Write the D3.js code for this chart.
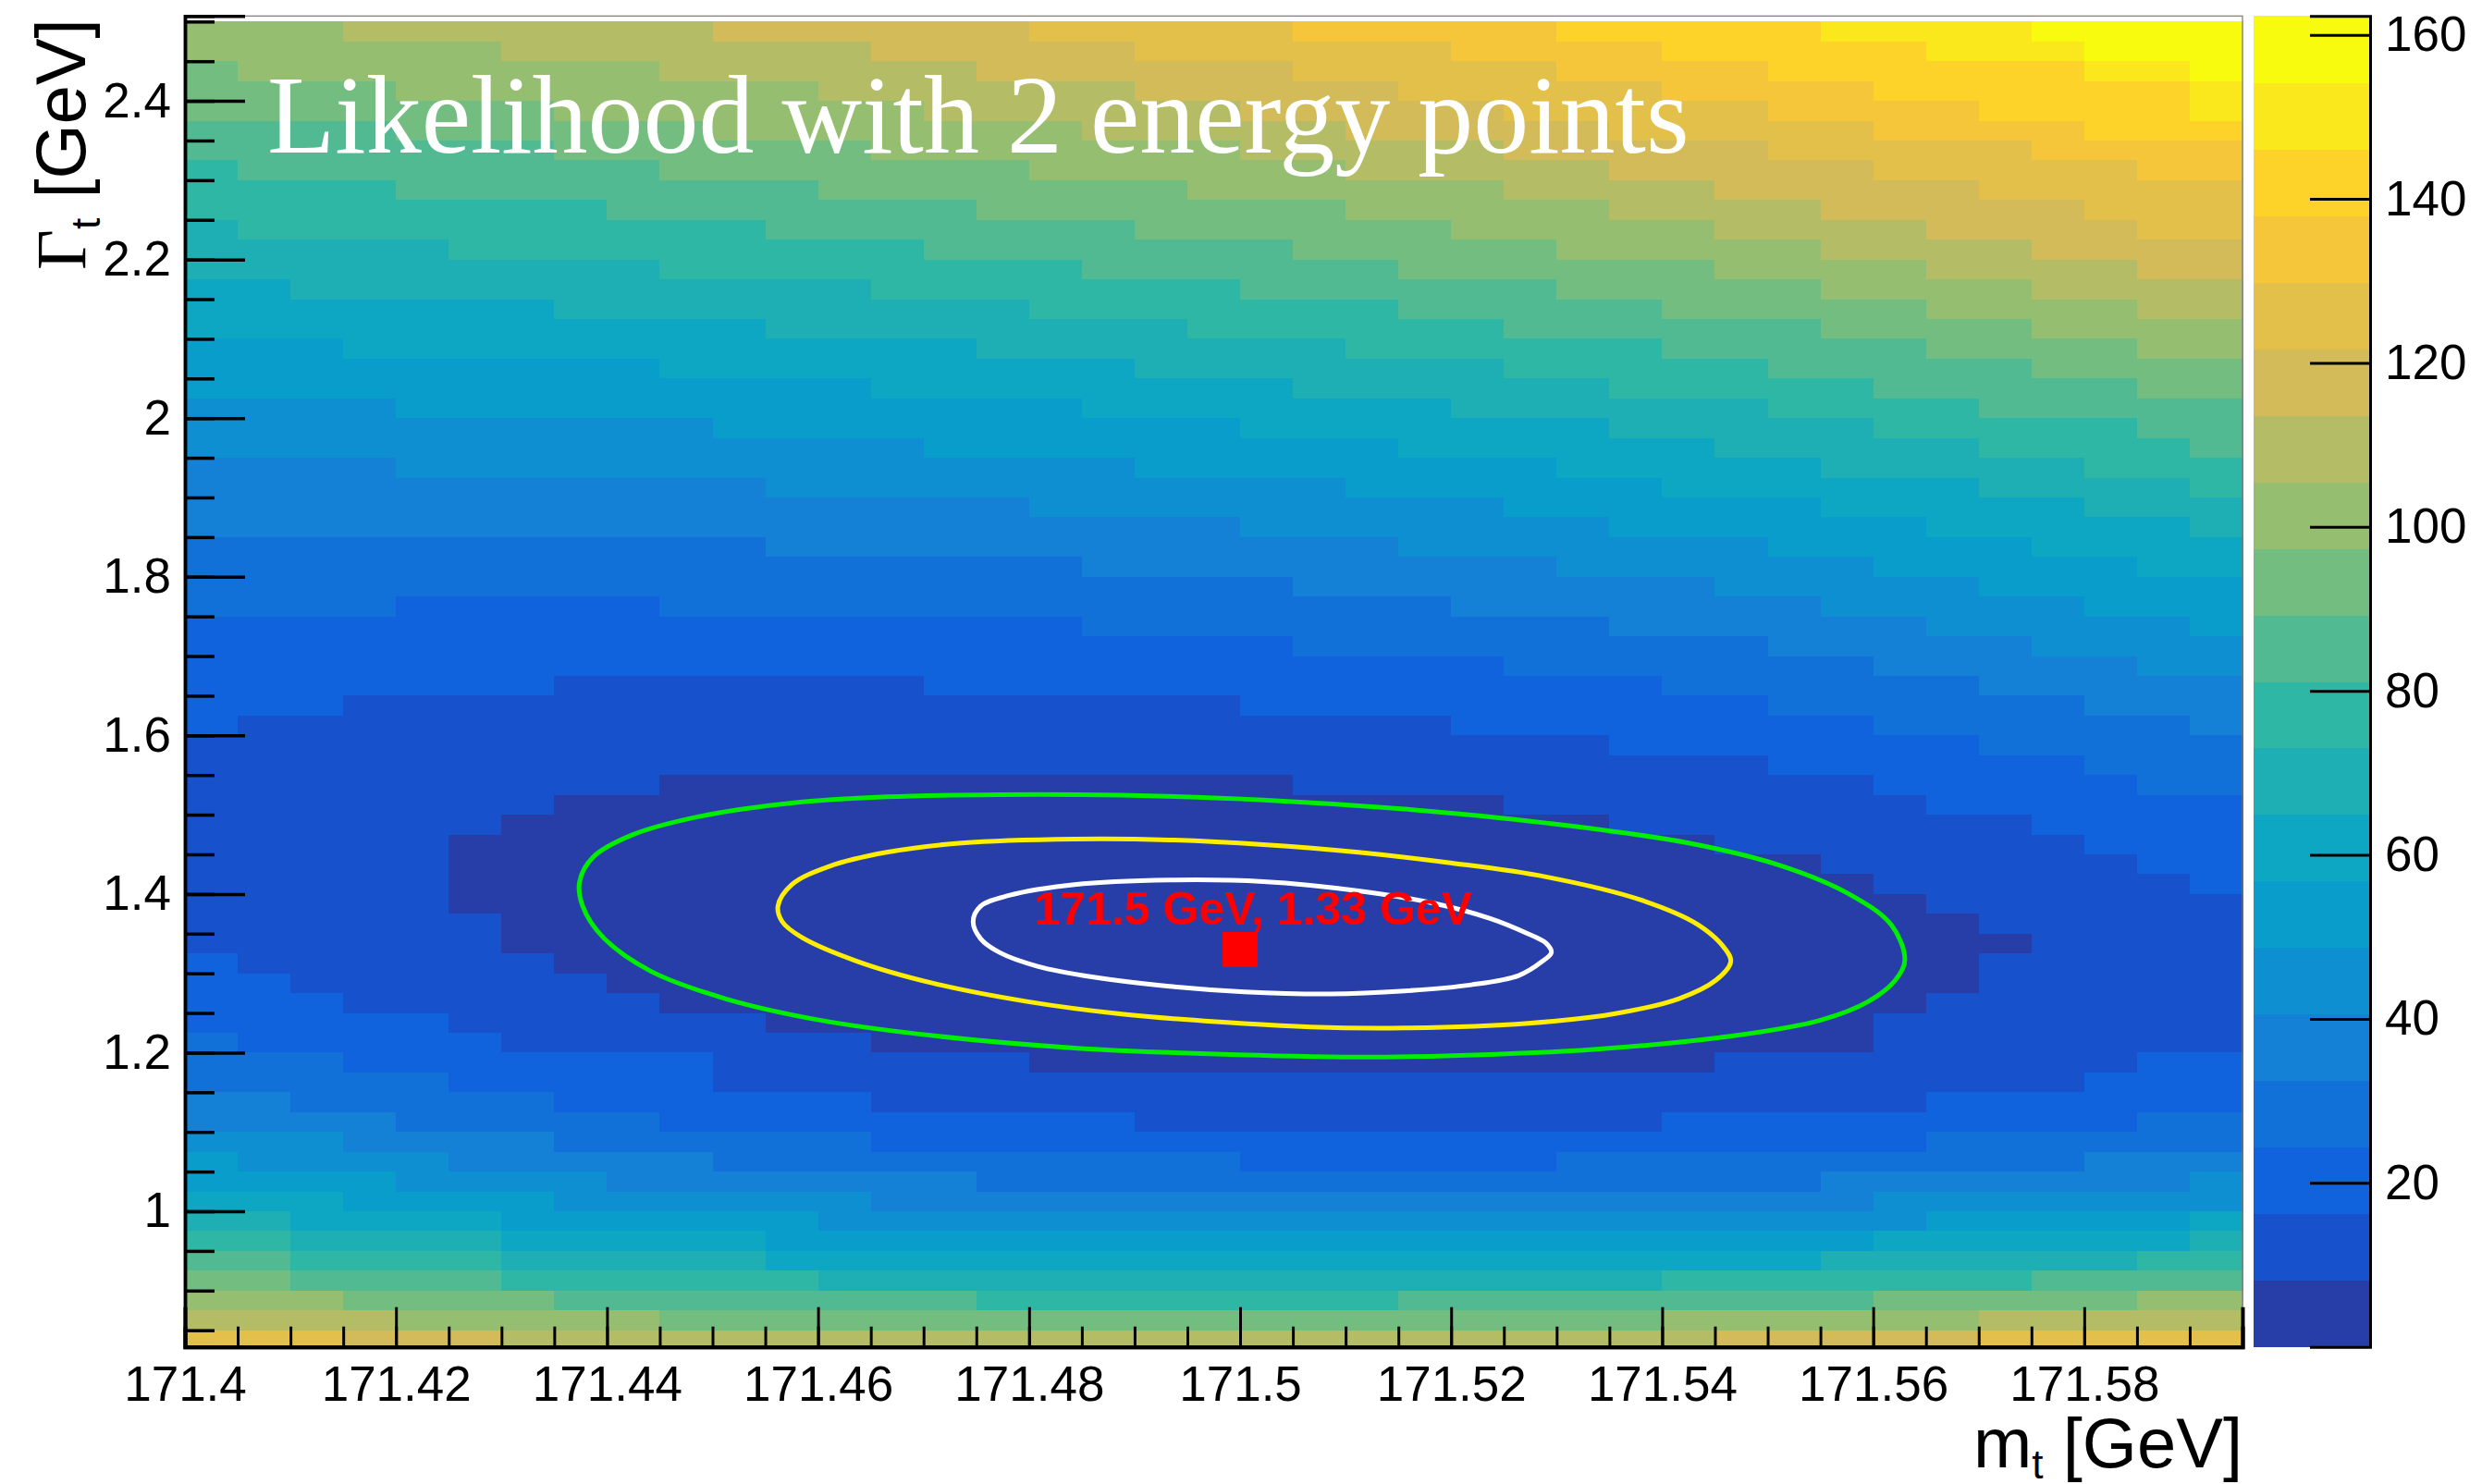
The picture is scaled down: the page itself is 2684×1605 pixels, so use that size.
<!DOCTYPE html>
<html><head><meta charset="utf-8">
<script src="https://cdn.jsdelivr.net/npm/d3@7"></script>
<style>html,body{margin:0;padding:0;background:#fff;} svg{display:block;}</style>
</head><body><svg id="c" width="2684" height="1605"></svg>
<script>
// ---------------- data ----------------
const title = "Likelihood with 2 energy points";
const xTitle = ["m", "t", " [GeV]"];
const yTitle = ["\u0393", "t", " [GeV]"];
const xMajorTicks = [171.40,171.42,171.44,171.46,171.48,171.50,171.52,171.54,171.56,171.58];
const yMajorTicks = [1.0,1.2,1.4,1.6,1.8,2.0,2.2,2.4];
const zTicks = [20,40,60,80,100,120,140,160];
const mRange = [171.4, 171.595];
const gammaRange = [0.829, 2.507];
const zRange = [0, 162.3];
const nBands = 20;
const mBinWidth = 0.005;
const gammaBinWidth = 0.025;
const bestFit = [171.5, 1.33];
const bestFitLabel = "171.5 GeV, 1.33 GeV";
const bestFitLabelPos = [171.4805, 1.3613];

// colour band index per cell, as runs [startColumn, band] ; rows from top (Γ=2.507) to bottom (Γ=0.829)
const bandRuns = [
 [[0,12],[3,13],[10,14],[16,15],[21,16],[26,17],[31,18],[35,19]],
 [[0,12],[6,13],[13,14],[18,15],[24,16],[28,17],[33,18],[36,19]],
 [[0,11],[1,12],[9,13],[15,14],[21,15],[26,16],[30,17],[36,18],[38,19]],
 [[0,11],[4,12],[12,13],[18,14],[23,15],[28,16],[32,17],[38,18]],
 [[0,11],[7,12],[14,13],[20,14],[25,15],[30,16],[34,17],[38,18]],
 [[0,10],[4,11],[10,12],[17,13],[22,14],[27,15],[32,16],[36,17]],
 [[0,10],[7,11],[13,12],[20,13],[25,14],[30,15],[35,16]],
 [[0,9],[1,10],[9,11],[16,12],[22,13],[27,14],[32,15],[37,16]],
 [[0,9],[4,10],[12,11],[19,12],[25,13],[29,14],[34,15]],
 [[0,9],[8,10],[15,11],[22,12],[27,13],[31,14],[36,15]],
 [[0,8],[1,9],[11,10],[18,11],[24,12],[29,13],[33,14],[37,15]],
 [[0,8],[5,9],[14,10],[21,11],[26,12],[31,13],[35,14]],
 [[0,8],[9,9],[17,10],[23,11],[29,12],[33,13],[37,14]],
 [[0,7],[2,8],[13,9],[20,10],[26,11],[31,12],[35,13]],
 [[0,7],[7,8],[16,9],[23,10],[28,11],[33,12],[37,13]],
 [[0,7],[11,8],[19,9],[25,10],[31,11],[35,12]],
 [[0,6],[3,7],[15,8],[22,9],[28,10],[33,11],[37,12]],
 [[0,6],[9,7],[18,8],[25,9],[30,10],[35,11]],
 [[0,6],[13,7],[21,8],[27,9],[32,10],[37,11]],
 [[0,5],[4,6],[17,7],[24,8],[30,9],[34,10]],
 [[0,5],[10,6],[20,7],[27,8],[32,9],[37,10]],
 [[0,5],[14,6],[23,7],[29,8],[34,9],[38,10]],
 [[0,4],[4,5],[18,6],[26,7],[31,8],[36,9]],
 [[0,4],[11,5],[22,6],[28,7],[34,8],[38,9]],
 [[0,4],[16,5],[25,6],[31,7],[36,8]],
 [[0,4],[20,5],[27,6],[33,7],[38,8]],
 [[0,3],[11,4],[23,5],[30,6],[35,7]],
 [[0,3],[17,4],[26,5],[32,6],[37,7]],
 [[0,3],[21,4],[29,5],[34,6]],
 [[0,3],[4,2],[9,3],[24,4],[31,5],[36,6]],
 [[0,2],[17,3],[27,4],[33,5],[38,6]],
 [[0,2],[21,3],[30,4],[35,5]],
 [[0,2],[25,3],[32,4],[37,5]],
 [[0,2],[7,1],[14,2],[28,3],[34,4]],
 [[0,2],[3,1],[20,2],[30,3],[36,4]],
 [[0,2],[1,1],[24,2],[32,3],[38,4]],
 [[0,1],[27,2],[34,3]],
 [[0,1],[30,2],[36,3]],
 [[0,1],[9,0],[21,1],[32,2],[37,3]],
 [[0,1],[7,0],[25,1],[33,2]],
 [[0,1],[6,0],[27,1],[35,2]],
 [[0,1],[5,0],[29,1],[36,2]],
 [[0,1],[5,0],[31,1],[37,2]],
 [[0,1],[5,0],[32,1],[38,2]],
 [[0,1],[5,0],[33,1]],
 [[0,1],[6,0],[34,1]],
 [[0,1],[6,0],[35,1]],
 [[0,2],[1,1],[7,0],[34,1]],
 [[0,2],[2,1],[8,0],[34,1]],
 [[0,2],[3,1],[9,0],[33,1]],
 [[0,2],[5,1],[11,0],[32,1]],
 [[0,3],[1,2],[6,1],[13,0],[32,1]],
 [[0,3],[3,2],[10,1],[16,0],[29,1],[37,2]],
 [[0,3],[5,2],[10,1],[36,2]],
 [[0,4],[2,3],[7,2],[13,1],[33,2]],
 [[0,4],[4,3],[9,2],[18,1],[28,2],[37,3]],
 [[0,5],[3,4],[7,3],[13,2],[33,3]],
 [[0,6],[1,5],[5,4],[10,3],[20,2],[26,3],[36,4]],
 [[0,6],[4,5],[8,4],[15,3],[31,4],[38,5]],
 [[0,7],[3,6],[7,5],[13,4],[32,5]],
 [[0,8],[2,7],[6,6],[12,5],[33,6],[38,7]],
 [[0,9],[2,8],[6,7],[11,6],[32,7],[38,8]],
 [[0,10],[2,9],[6,8],[11,7],[31,8],[37,9]],
 [[0,11],[2,10],[6,9],[12,8],[28,9],[35,10]],
 [[0,12],[3,11],[7,10],[15,9],[23,10],[32,11],[37,12]],
 [[0,13],[4,12],[9,11],[28,12],[34,13]],
 [[0,15],[3,14],[6,13],[29,14],[34,15]]
];

// contour lines [m, Γ]
const contour1sigma = [[171.4747,1.3652],[171.4754,1.3846],[171.4781,1.3982],[171.4843,1.4118],[171.4933,1.4176],[171.5022,1.4157],[171.5112,1.4040],[171.5183,1.3885],[171.5237,1.3691],[171.5273,1.3497],[171.5290,1.3380],[171.5295,1.3263],[171.5286,1.3147],[171.5264,1.2972],[171.5219,1.2855],[171.5156,1.2778],[171.5085,1.2739],[171.5004,1.2766],[171.4933,1.2836],[171.4861,1.2952],[171.4808,1.3089],[171.4772,1.3263],[171.4754,1.3438]];
const contour2sigma = [[171.4562,1.3846],[171.4575,1.4118],[171.4611,1.4351],[171.4665,1.4526],[171.4736,1.4643],[171.4843,1.4693],[171.4933,1.4682],[171.5022,1.4623],[171.5112,1.4526],[171.5201,1.4390],[171.5290,1.4216],[171.5380,1.3924],[171.5434,1.3613],[171.5460,1.3302],[171.5465,1.3147],[171.5451,1.2914],[171.5416,1.2681],[171.5353,1.2486],[171.5273,1.2370],[171.5156,1.2311],[171.5067,1.2323],[171.4977,1.2389],[171.4888,1.2486],[171.4799,1.2642],[171.4709,1.2875],[171.4638,1.3147],[171.4584,1.3458],[171.4566,1.3652]];
const contour3sigma = [[171.4374,1.4157],[171.4387,1.4467],[171.4423,1.4740],[171.4486,1.4973],[171.4575,1.5148],[171.4665,1.5225],[171.4772,1.5253],[171.4888,1.5245],[171.5022,1.5186],[171.5156,1.5070],[171.5290,1.4895],[171.5425,1.4643],[171.5514,1.4351],[171.5577,1.4001],[171.5617,1.3613],[171.5630,1.3167],[171.5621,1.2914],[171.5595,1.2642],[171.5550,1.2409],[171.5469,1.2214],[171.5335,1.2040],[171.5201,1.1962],[171.5112,1.1943],[171.4977,1.1981],[171.4843,1.2059],[171.4709,1.2214],[171.4602,1.2409],[171.4512,1.2681],[171.4441,1.3030],[171.4396,1.3458],[171.4377,1.3846]];

// ---------------- palette (ROOT kBird) ----------------
const birdStops = [0,0.125,0.25,0.375,0.5,0.625,0.75,0.875,1];
const birdR = [0.2082,0.0592,0.0780,0.0232,0.1802,0.5301,0.8186,0.9956,0.9764];
const birdG = [0.1664,0.3599,0.5041,0.6419,0.7178,0.7492,0.7328,0.7862,0.9832];
const birdB = [0.5293,0.8684,0.8385,0.7914,0.6425,0.4662,0.3499,0.1968,0.0539];
const bird = d3.scaleLinear().domain(birdStops)
  .range(birdStops.map((s,i)=>d3.rgb(birdR[i]*255,birdG[i]*255,birdB[i]*255).toString()))
  .interpolate(d3.interpolateRgb);
const bandColors = d3.range(nBands).map(i => bird(Math.floor((i+0.99)*255/nBands)/254));

// ---------------- layout ----------------
const F = {x0:200, x1:2425, y0:17.3, y1:1456.7};
const CB = {x0:2437, x1:2564};
const sans = "'Liberation Sans', Arial, Helvetica, sans-serif";
const serif = "'Liberation Serif', 'Times New Roman', serif";
const svg = d3.select("#c");

const x = d3.scaleLinear().domain(mRange).range([F.x0, F.x1]);
const y = d3.scaleLinear().domain(gammaRange).range([F.y1, F.y0]);
const zScale = d3.scaleLinear().domain(zRange).range([F.y1, F.y0]);
const color = d3.scaleQuantize().domain(zRange).range(bandColors);
const zStep = (zRange[1]-zRange[0])/nBands;

// build cells
const nCols = Math.round((mRange[1]-mRange[0])/mBinWidth);
const cells = [];
bandRuns.forEach((runs, r) => {
  const hi = Math.min(gammaRange[1], 2.5 - gammaBinWidth*r);
  const lo = Math.max(gammaRange[0], 2.475 - gammaBinWidth*r);
  for (let c = 0; c < nCols; c++) {
    let band = runs[0][1];
    for (const [s,b] of runs) if (c >= s) band = b;
    cells.push({m0: mRange[0]+c*mBinWidth, m1: mRange[0]+(c+1)*mBinWidth, g0: lo, g1: hi, z: (band+0.5)*zStep});
  }
});

svg.append("g").attr("shape-rendering","crispEdges")
  .selectAll("rect").data(cells).join("rect")
  .attr("x", d => x(d.m0)).attr("width", d => x(d.m1)-x(d.m0)+0.6)
  .attr("y", d => y(d.g1)).attr("height", d => y(d.g0)-y(d.g1)+0.6)
  .attr("fill", d => color(d.z));

// contours
const line = d3.line().x(d=>x(d[0])).y(d=>y(d[1])).curve(d3.curveCatmullRomClosed.alpha(0.5));
[[contour3sigma,"#00ee00"],[contour2sigma,"#ffee00"],[contour1sigma,"#ffffff"]].forEach(([pts,col])=>{
  svg.append("path").attr("d", line(pts)).attr("fill","none").attr("stroke",col).attr("stroke-width",5);
});

// best fit marker + label
svg.append("rect").attr("x", x(bestFit[0])-19).attr("y", y(bestFit[1])-19)
  .attr("width",38).attr("height",38).attr("fill","#ff0000");
svg.append("text").attr("x", x(bestFitLabelPos[0])).attr("y", y(bestFitLabelPos[1]))
  .attr("font-family", sans).attr("font-weight","bold").attr("font-size",50).attr("fill","#ff0000")
  .text(bestFitLabel);

// title
svg.append("text").attr("x", 289).attr("y", 165).attr("font-family", serif)
  .attr("font-size", 120).attr("fill","#ffffff").text(title);

// frame
svg.append("rect").attr("x",F.x0).attr("y",F.y0).attr("width",F.x1-F.x0).attr("height",F.y1-F.y0)
  .attr("fill","none").attr("stroke","#777").attr("stroke-width",1.2);

// x axis
const xMinor = d3.range(0, nCols+1).map(k => mRange[0] + k*mBinWidth);
const gx = svg.append("g").attr("transform",`translate(0,${F.y1})`);
gx.call(d3.axisBottom(x).tickValues(xMinor).tickSize(-22).tickFormat(""));
gx.call(g=>g.append("g").call(d3.axisBottom(x).tickValues(xMajorTicks).tickSize(-43).tickPadding(21)
   .tickFormat(d => String(+d.toFixed(3)))));
gx.selectAll("path.domain").attr("stroke","#000").attr("stroke-width",4);
gx.selectAll(".tick line").attr("stroke","#000").attr("stroke-width",3);
gx.selectAll("text").attr("font-family",sans).attr("font-size",53).attr("fill","#000");

// y axis
const yMinor = d3.range(0, 34).map(k => 0.85 + k*0.05);
const gy = svg.append("g").attr("transform",`translate(${F.x0},0)`);
gy.call(d3.axisLeft(y).tickValues(yMinor).tickSize(-32).tickFormat(""));
gy.call(g=>g.append("g").call(d3.axisLeft(y).tickValues(yMajorTicks).tickSize(-65).tickPadding(15)
   .tickFormat(d => String(+d.toFixed(2)))));
gy.selectAll("path.domain").attr("stroke","#000").attr("stroke-width",3.5);
gy.selectAll(".tick line").attr("stroke","#000").attr("stroke-width",3.5);
gy.selectAll("text").attr("font-family",sans).attr("font-size",53).attr("fill","#000");

// colour bar
const cbBands = d3.range(nBands).map(i => ({z0: zRange[0]+i*zStep, z1: zRange[0]+(i+1)*zStep}));
svg.append("g").attr("shape-rendering","crispEdges").selectAll("rect").data(cbBands).join("rect")
  .attr("x", CB.x0).attr("width", CB.x1-CB.x0)
  .attr("y", d => zScale(d.z1)).attr("height", d => zScale(d.z0)-zScale(d.z1)+0.5)
  .attr("fill", d => color((d.z0+d.z1)/2));
const gz = svg.append("g").attr("transform",`translate(${CB.x1-1},0)`);
gz.call(d3.axisRight(zScale).tickValues(zTicks).tickSize(-65).tickPadding(16).tickFormat(d3.format("d")));
gz.selectAll("path.domain").attr("stroke","#000").attr("stroke-width",3);
gz.selectAll(".tick line").attr("stroke","#000").attr("stroke-width",3);
gz.selectAll("text").attr("font-family",sans).attr("font-size",53).attr("fill","#000");

// axis titles
const xt = svg.append("text").attr("x", F.x1).attr("y", 1587).attr("text-anchor","end")
  .attr("font-family", sans).attr("font-size", 76).attr("fill","#000");
xt.append("tspan").text(xTitle[0]);
xt.append("tspan").attr("font-size",44).attr("dy",12).text(xTitle[1]);
xt.append("tspan").attr("dy",-12).text(xTitle[2]);

const yt = svg.append("text").attr("transform",`translate(92,${F.y0+3}) rotate(-90)`).attr("text-anchor","end")
  .attr("font-family", sans).attr("font-size", 76).attr("fill","#000");
yt.append("tspan").attr("font-family", serif).text(yTitle[0]);
yt.append("tspan").attr("font-size",44).attr("dy",16).text(yTitle[1]);
yt.append("tspan").attr("dy",-16).text(yTitle[2]);
</script></body></html>
